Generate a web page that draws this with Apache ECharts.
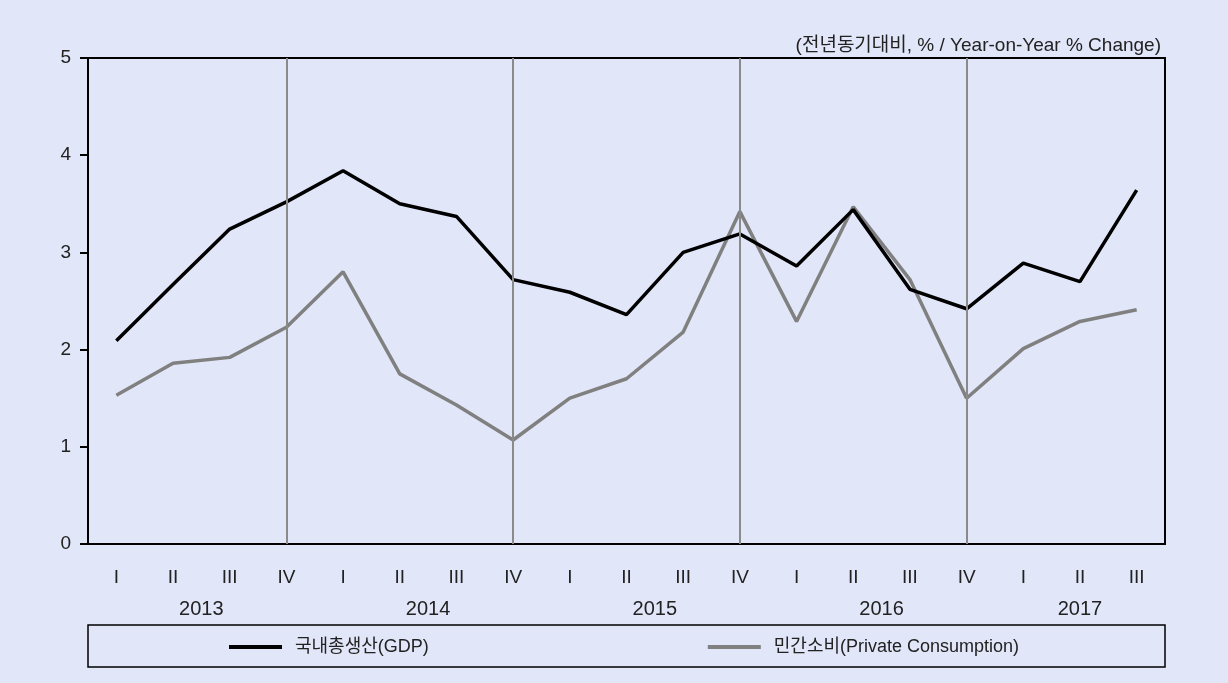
<!DOCTYPE html>
<html>
<head>
<meta charset="utf-8">
<script src="https://cdn.jsdelivr.net/npm/echarts@6/dist/echarts.min.js"></script>
<style>
	html, body { margin: 0; padding: 0; background: #e1e6f8; }
	#chart { width: 1228px; height: 683px; }
</style>
</head>
<body>
<div id="chart"></div>
<script>
	// 분기 (2013 I ~ 2017 III)
	var quarters = ['I','II','III','IV','I','II','III','IV','I','II','III','IV','I','II','III','IV','I','II','III']
	var yearLabels = ['2013','2014','2015','2016','2017']
	var yearPos = [1.5, 5.5, 9.5, 13.5, 17]
	var q4Index = [3, 7, 11, 15]

	var gdpData = [2.09, 2.67, 3.24, 3.52, 3.84, 3.50, 3.37, 2.72, 2.59, 2.36, 3.00, 3.19, 2.86, 3.44, 2.62, 2.42, 2.89, 2.70, 3.64]
	var consData = [1.53, 1.86, 1.92, 2.23, 2.80, 1.75, 1.43, 1.07, 1.50, 1.70, 2.18, 3.42, 2.29, 3.47, 2.72, 1.50, 2.01, 2.29, 2.41]

	var fontFam = 'Liberation Sans, Noto Sans CJK KR, sans-serif'
	var chart = echarts.init(document.getElementById('chart'))

	chart.setOption({
		backgroundColor: '#e1e6f8',
		animation: false,
		textStyle: { fontFamily: fontFam },
		title: {
			text: '(전년동기대비, % / Year-on-Year % Change)',
			right: 62,
			top: 31,
			textStyle: { fontSize: 19, fontWeight: 'normal', color: '#222', fontFamily: fontFam }
		},
		grid: {
			left: 88, right: 63, top: 58, bottom: 139,
			show: true,
			borderColor: '#000',
			borderWidth: 2
		},
		legend: {
			left: 224,
			top: 633,
			itemGap: 279,
			itemWidth: 53,
			itemHeight: 4,
			icon: 'rect',
			textStyle: { fontSize: 18, color: '#222', fontFamily: fontFam, padding: [0, 0, 0, 8] },
			data: ['국내총생산(GDP)', '민간소비(Private Consumption)']
		},
		graphic: [{
			type: 'rect',
			shape: { x: 88, y: 625, width: 1077, height: 42 },
			style: { fill: 'none', stroke: '#000', lineWidth: 1.5 },
			silent: true
		}],
		xAxis: [{
			type: 'category',
			data: quarters,
			boundaryGap: true,
			axisLine: { lineStyle: { color: '#000', width: 2 } },
			axisTick: { show: false },
			axisLabel: { fontSize: 19, color: '#222', margin: 24, interval: 0 },
			splitLine: { show: false }
		}, {
			type: 'value',
			position: 'bottom',
			offset: 32,
			min: -0.5,
			max: 18.5,
			axisLine: { show: false },
			axisTick: { show: false },
			splitLine: { show: false },
			axisLabel: {
				fontSize: 20,
				color: '#222',
				margin: 23,
				customValues: yearPos,
				formatter: function (v) {
					var i = yearPos.indexOf(v)
					return i >= 0 ? yearLabels[i] : ''
				}
			}
		}],
		yAxis: {
			type: 'value',
			min: 0,
			max: 5,
			interval: 1,
			axisLine: { show: true, onZero: false, lineStyle: { color: '#000', width: 2 } },
			axisTick: { show: true, inside: false, length: 8, lineStyle: { color: '#000', width: 2 } },
			axisLabel: { fontSize: 19, color: '#222', margin: 17 },
			splitLine: { show: false }
		},
		series: [{
			name: '국내총생산(GDP)',
			type: 'line',
			data: gdpData,
			showSymbol: false,
			symbol: 'none',
			z: 4,
			lineStyle: { color: '#000', width: 3.5 },
			itemStyle: { color: '#000' },
			markLine: {
				silent: true,
				symbol: 'none',
				label: { show: false },
				lineStyle: { color: '#8a8a8a', width: 2, type: 'solid' },
				data: q4Index.map(function (i) { return { xAxis: i } })
			}
		}, {
			name: '민간소비(Private Consumption)',
			type: 'line',
			data: consData,
			showSymbol: false,
			symbol: 'none',
			z: 3,
			lineStyle: { color: '#808080', width: 3.5 },
			itemStyle: { color: '#808080' }
		}]
	})
</script>
</body>
</html>
